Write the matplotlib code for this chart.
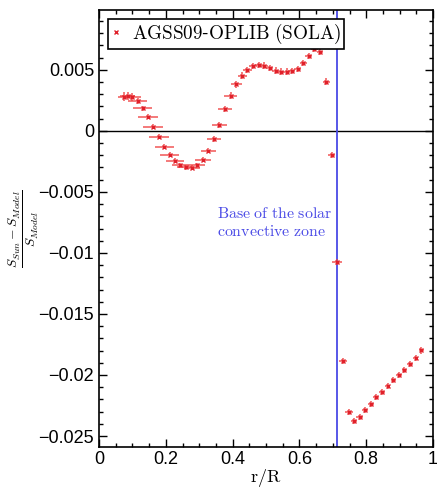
import matplotlib
matplotlib.use("Agg")
from matplotlib import pyplot as plt
from matplotlib.ticker import MultipleLocator

# fractional radius and relative difference
r = [0.075, 0.086, 0.100, 0.116, 0.131, 0.147, 0.163, 0.180, 0.196, 0.212,
     0.228, 0.244, 0.260, 0.277, 0.293, 0.310, 0.327, 0.344, 0.360, 0.377,
     0.394, 0.411, 0.429, 0.444, 0.461, 0.478, 0.494, 0.511, 0.529, 0.544,
     0.562, 0.577, 0.595, 0.612, 0.628, 0.645, 0.662, 0.680, 0.696, 0.712,
     0.730, 0.747, 0.763, 0.780, 0.796, 0.813, 0.830, 0.847, 0.864, 0.881,
     0.898, 0.914, 0.931, 0.948, 0.965]
dS = [0.00281, 0.00287, 0.00276, 0.00246, 0.00186, 0.00117, 0.00035, -0.00049, -0.00129, -0.00194,
      -0.00243, -0.00281, -0.00298, -0.00303, -0.00281, -0.00238, -0.00164, -0.00068, 0.00049, 0.00178,
      0.00289, 0.00380, 0.00453, 0.00502, 0.00533, 0.00541, 0.00535, 0.00516, 0.00494, 0.00486,
      0.00486, 0.00489, 0.00508, 0.00555, 0.00615, 0.00672, 0.00648, 0.00402, -0.00199, -0.01076,
      -0.01888, -0.02306, -0.02380, -0.02347, -0.02289, -0.02235, -0.02183, -0.02137, -0.02088, -0.02044,
      -0.01998, -0.01956, -0.01907, -0.01863, -0.01798]
# horizontal (resolution) and vertical errors
r_err = [0.018, 0.022, 0.025, 0.028, 0.028, 0.029, 0.030, 0.030, 0.029, 0.028,
         0.027, 0.026, 0.025, 0.024, 0.024, 0.024, 0.023, 0.022, 0.022, 0.021,
         0.019, 0.017, 0.014, 0.013, 0.012, 0.011, 0.011, 0.011, 0.010, 0.010,
         0.010, 0.010, 0.010, 0.010, 0.010, 0.010, 0.010, 0.010, 0.010, 0.014,
         0.012, 0.012, 0.010, 0.010, 0.010, 0.009, 0.009, 0.009, 0.008, 0.008,
         0.008, 0.008, 0.008, 0.008, 0.008]
dS_err = [0.00035, 0.00035, 0.00030, 0.00025, 0.00020, 0.00020, 0.00020, 0.00020, 0.00020, 0.00020,
          0.00020, 0.00020, 0.00020, 0.00020, 0.00020, 0.00020, 0.00020, 0.00025, 0.00025, 0.00025,
          0.00030, 0.00030, 0.00030, 0.00025, 0.00025, 0.00025, 0.00025, 0.00025, 0.00025, 0.00025,
          0.00025, 0.00025, 0.00025, 0.00025, 0.00025, 0.00025, 0.00025, 0.00030, 0.00025, 0.00025,
          0.00025, 0.00025, 0.00025, 0.00025, 0.00025, 0.00025, 0.00025, 0.00025, 0.00025, 0.00025,
          0.00025, 0.00025, 0.00025, 0.00025, 0.00030]

r_bcz = 0.713

plt.rcParams['mathtext.fontset'] = 'cm'
plt.rcParams['font.family'] = 'Liberation Sans'

fig = plt.figure(figsize=(4.37, 4.88), dpi=100)
ax = fig.add_axes([0.2265, 0.084, 0.7645, 0.8955])

ax.errorbar(r, dS, xerr=r_err, yerr=dS_err, fmt='none', ecolor='#f04040',
            elinewidth=1.3, alpha=0.75, zorder=2)
ax.plot(r, dS, 'x', color='#e0202a', markersize=3, mew=1.0, zorder=3,
        label=r'$\mathrm{AGSS09}$-$\mathrm{OPLIB\ (SOLA)}$')

ax.axhline(0, color='black', lw=1.0, zorder=1)
ax.axvline(r_bcz, color='#4a4ae6', lw=1.3, zorder=1)
ax.text(0.354, -0.0075, r'$\mathrm{Base\ of\ the\ solar}$' + '\n' + r'$\mathrm{convective\ zone}$',
        color='#4a4ae6', fontsize=11.4, va='center', ha='left', linespacing=1.3)

ax.set_xlim(0, 1)
ax.set_ylim(-0.0259, 0.0099)
ax.xaxis.set_minor_locator(MultipleLocator(0.05))
ax.yaxis.set_minor_locator(MultipleLocator(0.001))
ax.set_xticks([0, 0.2, 0.4, 0.6, 0.8, 1.0])
ax.set_xticklabels(['0', '0.2', '0.4', '0.6', '0.8', '1'])
ax.set_yticks([0.005, 0, -0.005, -0.01, -0.015, -0.02, -0.025])
ax.set_yticklabels(['0.005', '0', '\u22120.005', '\u22120.01', '\u22120.015', '\u22120.02', '\u22120.025'])
ax.tick_params(which='both', direction='in', top=True, right=True, labelsize=13, width=1.0)
ax.tick_params(which='major', length=6)
ax.tick_params(which='minor', length=3)
ax.tick_params(axis='x', pad=3)
for s in ax.spines.values():
    s.set_linewidth(1.2)

ax.set_xlabel(r'$\mathrm{r/R}$', fontsize=13, labelpad=-1)
ax.set_ylabel(r'$\frac{S_{Sun}-S_{Model}}{S_{Model}}$', fontsize=14)
ax.yaxis.set_label_coords(-0.175, 0.5)

leg = ax.legend(loc='upper left', fontsize=13.8, handlelength=0.6, handletextpad=0.5,
                borderpad=0.15, fancybox=False, edgecolor='black', framealpha=1,
                markerscale=0.8, bbox_to_anchor=(0.0, 1.0), borderaxespad=0.45)
leg.get_frame().set_linewidth(1.2)

fig.savefig('out.png', dpi=100)
